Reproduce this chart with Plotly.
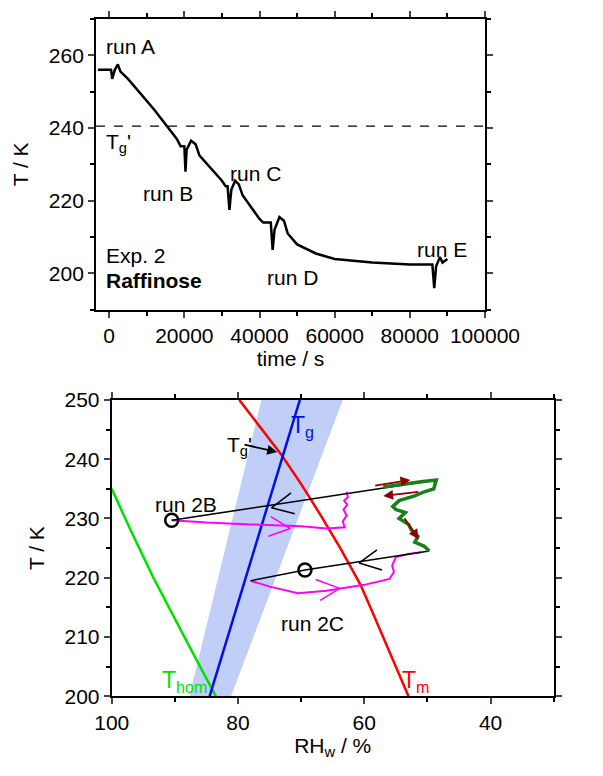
import plotly.graph_objects as go

# top panel: temperature history
t_s = [-3000, 0, 500, 800, 1500, 2300, 3000, 5000, 12000, 18000, 19000, 20000, 20300, 20600, 21800, 23000, 24000,
       30000, 31000, 31500, 32000, 32500, 33500, 34500, 35500, 40000, 41000, 43000, 43500, 44000, 45300, 46500,
       47500, 50000, 55000, 60000, 70000, 80000, 86000, 86500, 87000, 88000, 88700, 90000]
temp_k = [256, 256, 256, 253.5, 256, 257.5, 255.5, 253.5, 245, 237, 235, 235, 228, 234, 236.5, 235.5, 232.5,
          225.5, 224, 224, 217.5, 223, 225.5, 224.5, 221.5, 215, 214, 214, 206.5, 212, 215.5, 214.5,
          211, 208, 205.5, 204, 203, 202.5, 202.5, 196, 202, 204.5, 203, 204]
tg_prime = 240.5

# bottom panel: curves in RH-T space
thom_rh = [100, 97, 93.4, 90, 87, 84.5, 83]
thom_t = [235, 228, 220, 213, 207, 202, 199]
tg_rh = [84.5, 70.2]
tg_t = [200, 250]
band_rh = [87.7, 81.1, 63.4, 76.3, 87.7]
band_t = [200, 200, 250, 250, 200]
tm_rh = [79.8, 76.5, 73.1, 70, 67, 63.8, 60.6, 58.7, 56.8, 54.9, 53]
tm_t = [250, 245.5, 240.7, 235.8, 230.7, 225, 218.8, 214.2, 209.5, 204.8, 200]

b_black_rh = [90.5, 48.6]
b_black_t = [229.7, 236.5]
b_mag_rh = [90.5, 85, 78, 70, 66, 63.1, 63.4, 62.8, 63.3, 62.7, 63.2, 62.6, 62.8]
b_mag_t = [229.7, 229.3, 229, 228.7, 228.3, 228.5, 229.5, 230.5, 231.5, 232.3, 233, 233.6, 234.5]
green_rh = [57, 54, 51, 48.6, 49, 50.5, 52, 54.5, 55.5, 55, 53.5, 54.5, 53, 52.5, 51.5, 52, 50.5, 49.7]
green_t = [235.3, 235.8, 236.2, 236.5, 235, 234.5, 233.8, 233, 232, 231.5, 231, 230, 229, 228, 227, 226, 225.3, 224.5]
c_black_rh = [49.7, 69.4, 78]
c_black_t = [224.5, 221.3, 219.5]
c_mag_rh = [78, 75, 70.5, 66, 60, 56, 55.3, 55.6, 55, 53, 51]
c_mag_t = [219.5, 218.5, 217.4, 217.8, 218.8, 219.8, 221, 222, 223.5, 224, 224.3]
circ_rh = [90.5, 69.4]
circ_t = [229.7, 221.3]

FAM = "Liberation Sans, Arial"
font = dict(family=FAM, size=21, color="black")
fig = go.Figure()

fig.add_trace(go.Scatter(x=t_s, y=temp_k, mode="lines", line=dict(color="black", width=2.5),
                         xaxis="x", yaxis="y", showlegend=False))
fig.add_trace(go.Scatter(x=[-3500, 100000], y=[tg_prime, tg_prime], mode="lines",
                         line=dict(color="black", width=1.3, dash="dash"), xaxis="x", yaxis="y", showlegend=False))

def add(x, y, color, width=2, fill=None, fillcolor=None, mode="lines"):
    fig.add_trace(go.Scatter(x=x, y=y, mode=mode, line=dict(color=color, width=width), fill=fill,
                             fillcolor=fillcolor, xaxis="x2", yaxis="y2", showlegend=False))

add(band_rh, band_t, "rgba(0,0,0,0)", 0, fill="toself", fillcolor="rgba(160,180,245,0.65)")
add(thom_rh, thom_t, "#00e000", 2.5)
add(tm_rh, tm_t, "red", 2.5)
add(tg_rh, tg_t, "#0010e0", 2.5)
add(b_mag_rh, b_mag_t, "magenta", 2)
add(c_mag_rh, c_mag_t, "magenta", 2)
add(b_black_rh, b_black_t, "black", 1.5)
add(c_black_rh, c_black_t, "black", 1.5)
add(green_rh, green_t, "#1a7f1a", 3.5)
fig.add_trace(go.Scatter(x=circ_rh, y=circ_t, mode="markers",
                         marker=dict(symbol="circle-open", size=13, color="black", line=dict(width=2.5)),
                         xaxis="x2", yaxis="y2", showlegend=False))

# chevrons drawn as short line pairs
chev = [
    ([71.6, 74.7, 71], [234.3, 231.8, 230.8], "black"),
    ([58, 60.8, 57.2], [224.7, 222.5, 221.3], "black"),
    ([74.8, 71.7, 75.2], [230.3, 228.3, 227], "magenta"),
    ([67.7, 63.9, 67], [219.7, 218.2, 216.2], "magenta"),
]
for cx, cy, cc in chev:
    add(cx, cy, cc, 1.5)

ann = []
def txt(x, y, s, color="black", xref="x", yref="y", size=21, xanchor="left"):
    ann.append(dict(x=x, y=y, text=s, xref=xref, yref=yref, showarrow=False,
                    font=dict(family=FAM, size=size, color=color), xanchor=xanchor))

txt(-1500, 262.5, "run A")
txt(-1500, 236, "T<sub>g</sub>'")
txt(8500, 222, "run B")
txt(31500, 227.5, "run C")
txt(41500, 199, "run D")
txt(81500, 206.5, "run E")
txt(-1500, 205, "Exp. 2")
txt(-1500, 198, "<b>Raffinose</b>")
txt(93.5, 232.3, "run 2B", xref="x2", yref="y2")
txt(73.5, 212.3, "run 2C", xref="x2", yref="y2")
txt(82, 242.3, "T<sub>g</sub>'", xref="x2", yref="y2")
txt(72, 245.5, "T<sub>g</sub>", color="#0010e0", xref="x2", yref="y2", size=23)
txt(92.3, 202.5, "T<sub>hom</sub>", color="#00e000", xref="x2", yref="y2", size=23)
txt(54.3, 202.5, "T<sub>m</sub>", color="red", xref="x2", yref="y2", size=23)

arrows = [
    (73.8, 241.2, 79.2, 242.5, "black"),
    (52.7, 236.5, 58.5, 235.5, "#8b0000"),
    (57, 233.8, 51.2, 234.5, "#8b0000"),
    (51.4, 226.5, 53.8, 230.3, "#8b0000"),
]
for x, y, ax, ay, c in arrows:
    ann.append(dict(x=x, y=y, ax=ax, ay=ay, xref="x2", yref="y2", axref="x2", ayref="y2", text="",
                    showarrow=True, arrowhead=2, arrowsize=1.1, arrowwidth=1.8, arrowcolor=c))

ax_common = dict(showline=True, linecolor="black", linewidth=2, mirror="ticks", ticks="outside",
                 ticklen=6, tickwidth=1.5, showgrid=False, zeroline=False, automargin=False,
                 tickfont=dict(family=FAM, size=21, color="black"))

def minor(d):
    return dict(ticks="outside", ticklen=4, dtick=d, tickcolor="black")

fig.update_layout(
    width=603, height=776, margin=dict(l=0, r=0, t=0, b=0),
    plot_bgcolor="white", paper_bgcolor="white", font=font,
    xaxis=dict(ax_common, domain=[0.146, 0.791], range=[-3500, 100000], dtick=20000, tickformat="d",
               minor=minor(10000), title=dict(text="time / s", font=font, standoff=4), anchor="y"),
    yaxis=dict(ax_common, domain=[0.611, 0.986], range=[190, 270], tickvals=[200, 220, 240, 260],
               minor=minor(10), title=dict(text="T / K", font=font, standoff=14), anchor="x"),
    xaxis2=dict(ax_common, domain=[0.172, 0.905], range=[100, 30], tickvals=[100, 80, 60, 40],
                minor=minor(10), title=dict(text="RH<sub>w</sub> / %", font=font, standoff=4), anchor="y2"),
    yaxis2=dict(ax_common, domain=[0.113, 0.495], range=[200, 250], dtick=10,
                minor=minor(5), title=dict(text="T / K", font=font, standoff=14), anchor="x2"),
    annotations=ann,
)

fig.write_html("out.html")
